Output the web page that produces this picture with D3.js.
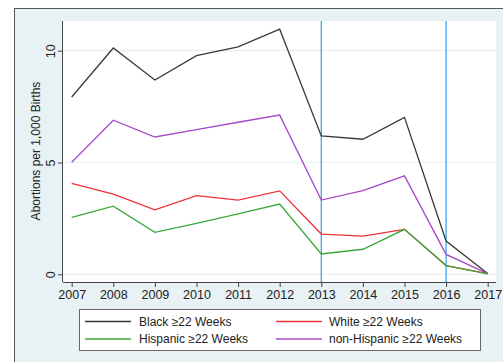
<!DOCTYPE html>
<html><head><meta charset="utf-8">
<script src="https://cdn.jsdelivr.net/npm/d3@7"></script>
<style>html,body{margin:0;padding:0;background:#fff;}svg{display:block;font-family:"Liberation Sans",Arial,sans-serif;}</style>
</head><body>
<svg id="c" width="503" height="362"></svg>
<script>
const years = [2007,2008,2009,2010,2011,2012,2013,2014,2015,2016,2017];
const black = [7.93,10.12,8.69,9.78,10.17,10.96,6.19,6.04,7.02,1.49,0.04];
const white = [4.07,3.59,2.88,3.52,3.32,3.73,1.80,1.71,2.01,0.39,0.03];
const hispanic = [2.55,3.05,1.88,2.28,2.70,3.14,0.91,1.12,2.01,0.39,0.02];
const nonHispanic = [5.01,6.89,6.14,6.47,6.80,7.12,3.32,3.74,4.40,0.89,0.03];
const yTicks = [0,5,10];
const markerYears = [2013,2016];
const seriesNames = ["Black \u226522 Weeks","White \u226522 Weeks","Hispanic \u226522 Weeks","non-Hispanic \u226522 Weeks"];
const seriesColors = ["#3a3a3a","#f0303a","#3aa83a","#a848c8"];
const seriesData = [black, white, hispanic, nonHispanic];

const svg = d3.select("#c");
// outer frame
svg.append("rect").attr("x",14.5).attr("y",8.5).attr("width",500).attr("height",360)
  .attr("fill","#e8f1f4").attr("stroke","#555").attr("stroke-width",1);
// plot area
const pl=63, pr=496, pt=21, pb=282;
svg.append("rect").attr("x",pl).attr("y",pt).attr("width",pr-pl).attr("height",pb-pt).attr("fill","#fff");

const x = d3.scaleLinear().domain([2007,2017]).range([71.7,487.7]);
const y = d3.scaleLinear().domain([0,10]).range([274.3,50.7]);

// gridlines
svg.append("g").selectAll("line").data(yTicks).join("line")
  .attr("x1",pl).attr("x2",pr).attr("y1",d=>y(d)).attr("y2",d=>y(d))
  .attr("stroke","#e6eff2").attr("stroke-width",1.2);

// vertical markers
svg.append("g").selectAll("line").data(markerYears).join("line")
  .attr("x1",d=>x(d)).attr("x2",d=>x(d)).attr("y1",pt).attr("y2",pb)
  .attr("stroke","#3ba6ee").attr("stroke-width",1.3);

// axes
const xAxis = d3.axisBottom(x).tickValues(years).tickFormat(d3.format("d")).tickSize(5).tickSizeOuter(0).tickPadding(3);
const gx = svg.append("g").attr("transform",`translate(0,${pb})`).call(xAxis);
gx.select(".domain").attr("d",`M${pl},0.5H${pr}`).attr("stroke","#444");
gx.selectAll(".tick line").attr("stroke","#444");
gx.selectAll("text").attr("font-size",12.5).attr("fill","#222");

const yAxis = d3.axisLeft(y).tickValues(yTicks).tickSize(5).tickSizeOuter(0).tickPadding(5);
const gy = svg.append("g").attr("transform",`translate(${pl},0)`).call(yAxis);
gy.select(".domain").attr("d",`M-0.5,${pt}V${pb}`).attr("stroke","#444");
gy.selectAll(".tick line").attr("stroke","#444");
gy.selectAll("text").attr("font-size",12.5).attr("fill","#222")
  .attr("transform","rotate(-90)").attr("x",0).attr("y",-8.5).attr("dy","0").attr("text-anchor","middle");

svg.append("text").attr("transform","translate(40,151) rotate(-90)")
  .attr("text-anchor","middle").attr("font-size",12).attr("fill","#222").text("Abortions per 1,000 Births");

// lines
const line = d3.line().x((d,i)=>x(years[i])).y(d=>y(d));
const drawOrder = [0,3,1,2];
drawOrder.forEach(k=>{
  svg.append("path").datum(seriesData[k]).attr("d",line).attr("fill","none")
    .attr("stroke",seriesColors[k]).attr("stroke-width",1.3).attr("stroke-linejoin","miter");
});

// legend
svg.append("rect").attr("x",79.5).attr("y",309.5).attr("width",401).attr("height",41)
  .attr("fill","#fff").attr("stroke","#666").attr("stroke-width",1);
const legPos = [[85,139,321.5],[276,329,321.5],[85,139,339],[276,329,339]];
const legOrder = [0,1,2,3];
legOrder.forEach((k,i)=>{
  const [lx,tx,ly] = legPos[i];
  svg.append("line").attr("x1",lx).attr("x2",lx+46).attr("y1",ly).attr("y2",ly)
    .attr("stroke",seriesColors[k]).attr("stroke-width",1.4);
  svg.append("text").attr("x",tx).attr("y",ly+4.3).attr("font-size",12).attr("fill","#222").text(seriesNames[k]);
});
</script>
</body></html>
